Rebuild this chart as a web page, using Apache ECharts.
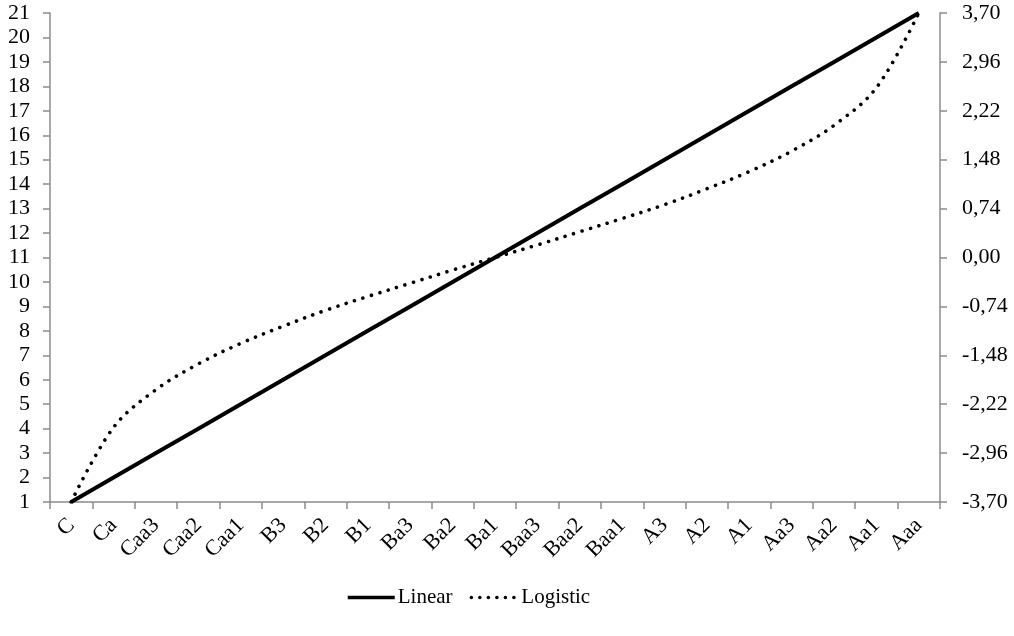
<!DOCTYPE html>
<html>
<head>
<meta charset="utf-8">
<script src="https://cdn.jsdelivr.net/npm/echarts@6/dist/echarts.min.js"></script>
<style>
html,body{margin:0;padding:0;background:#fff;}
#chart{width:1014px;height:636px;}
</style>
</head>
<body>
<div id="chart"></div>
<script>
const categories = ['C','Ca','Caa3','Caa2','Caa1','B3','B2','B1','Ba3','Ba2','Ba1','Baa3','Baa2','Baa1','A3','A2','A1','Aa3','Aa2','Aa1','Aaa'];
const linearValues = [1,2,3,4,5,6,7,8,9,10,11,12,13,14,15,16,17,18,19,20,21];
const logisticValues = [-3.70,-2.57,-2.00,-1.61,-1.30,-1.04,-0.80,-0.59,-0.39,-0.19,0.00,0.19,0.39,0.59,0.80,1.04,1.30,1.61,2.00,2.57,3.70];
const seriesNames = ['Linear','Logistic'];

const FONT = '"Liberation Serif", "Times New Roman", serif';
const FS = 22;
const AXIS_COLOR = '#8c8c8c';
const chart = echarts.init(document.getElementById('chart'), null, {renderer:'canvas'});
chart.setOption({
  animation:false,
  backgroundColor:'#fff',
  textStyle:{fontFamily:FONT},
  grid:{left:50,right:74,top:13,bottom:134,containLabel:false},
  legend:{
    top:582,
    left:341,
    itemWidth:47,
    itemHeight:14,
    itemGap:17,
    textStyle:{fontFamily:FONT,fontSize:21,color:'#000',padding:[0,0,0,-2]},
    itemStyle:{opacity:0},
    data:[
      {name:seriesNames[0],lineStyle:{width:3.5,color:'#000'}},
      {name:seriesNames[1],lineStyle:{width:3.6,color:'#000',type:[0.01,8.5],cap:'round'}}
    ]
  },
  xAxis:{
    type:'category',
    data:categories,
    boundaryGap:true,
    axisLine:{onZero:false,lineStyle:{color:AXIS_COLOR,width:1.5}},
    axisTick:{show:true,length:7,lineStyle:{color:AXIS_COLOR,width:1.5}},
    axisLabel:{rotate:45,margin:20,interval:0,color:'#000',fontFamily:FONT,fontSize:FS}
  },
  yAxis:[
    {
      type:'value',min:1,max:21,interval:1,position:'left',
      splitLine:{show:false},
      axisLine:{show:true,lineStyle:{color:AXIS_COLOR,width:1.5}},
      axisTick:{show:true,length:7,lineStyle:{color:AXIS_COLOR,width:1.5}},
      axisLabel:{margin:20,color:'#000',fontFamily:FONT,fontSize:FS}
    },
    {
      type:'value',min:-3.7,max:3.7,interval:0.74,position:'right',
      splitLine:{show:false},
      axisLine:{show:true,lineStyle:{color:AXIS_COLOR,width:1.5}},
      axisTick:{show:true,length:7,lineStyle:{color:AXIS_COLOR,width:1.5}},
      axisLabel:{margin:22,color:'#000',fontFamily:FONT,fontSize:FS,
        formatter:function(v){return v.toFixed(2).replace('.',',');}}
    }
  ],
  series:[
    {
      name:seriesNames[0],type:'line',yAxisIndex:0,data:linearValues,
      showSymbol:false,symbol:'none',
      lineStyle:{color:'#000',width:4},
      itemStyle:{color:'#000'}
    },
    {
      name:seriesNames[1],type:'line',yAxisIndex:1,data:logisticValues,
      showSymbol:false,symbol:'none',smooth:0.35,
      lineStyle:{color:'#000',width:3.6,type:[0.01,8.8],cap:'round'},
      itemStyle:{color:'#000'}
    }
  ]
});
</script>
</body>
</html>
